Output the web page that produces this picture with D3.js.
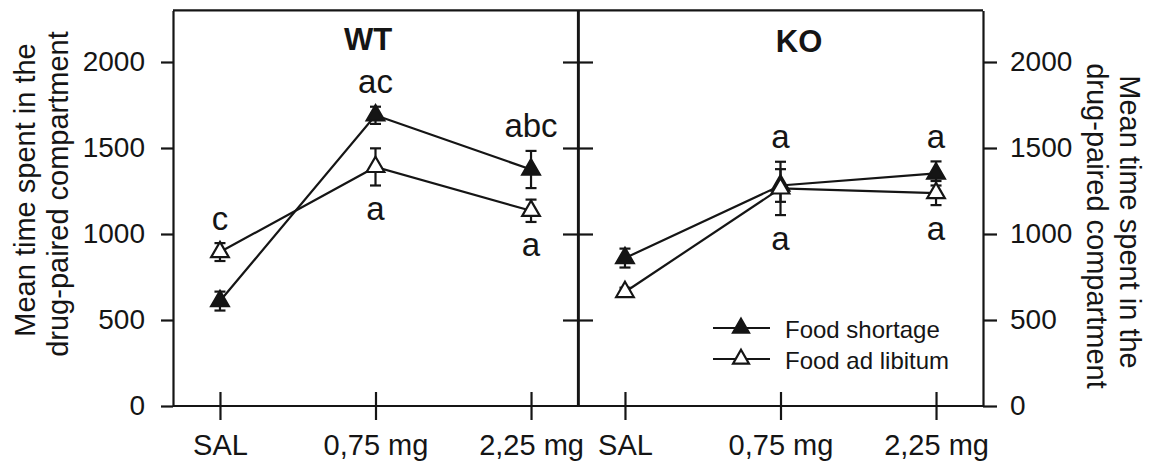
<!DOCTYPE html>
<html>
<head>
<meta charset="utf-8">
<script src="https://cdn.jsdelivr.net/npm/d3@7"></script>
<style>
  html, body { margin: 0; padding: 0; background: #fff; }
  svg { display: block; }
  text { font-family: "Liberation Sans", Arial, Helvetica, sans-serif; fill: #151515; }
</style>
</head>
<body>
<svg id="chart" width="1150" height="466"></svg>
<script>
// Doses on the x axis
const categories = ["SAL", "0,75 mg", "2,25 mg"];
const panels = ["WT", "KO"];
const seriesNames = ["Food shortage", "Food ad libitum"];

// Mean time (s) in the drug-paired compartment, with SEM
const wtShortage = [610, 1690, 1375];
const wtShortageErr = [55, 50, 108];
const wtAdLib = [895, 1390, 1135];
const wtAdLibErr = [52, 108, 65];

const koShortage = [860, 1282, 1352];
const koShortageErr = [55, 95, 70];
const koAdLib = [663, 1265, 1238];
const koAdLibErr = [25, 155, 70];

// Significance letters, written above the highest / below the lowest error bar
const wtLettersAbove = ["c", "ac", "abc"];
const wtLettersBelow = ["", "a", "a"];
const koLettersAbove = ["", "a", "a"];
const koLettersBelow = ["", "a", "a"];

const yTicks = [0, 500, 1000, 1500, 2000];
const yMax = 2300;
const yTitleLines = ["Mean time spent in the", "drug-paired compartment"];

const svg = d3.select("#chart");
const ink = "#151515";
const lw = 2.2;

const frameLeft = 173, frameMid = 578, frameRight = 983;
const y = d3.scaleLinear().domain([0, yMax]).range([406, 10.4]);

const panelRanges = { WT: [frameLeft, frameMid], KO: [frameMid, frameRight] };
const xScales = {};
panels.forEach(p => {
  xScales[p] = d3.scalePoint().domain(categories).range(panelRanges[p]).padding(0.302);
});

const data = {
  WT: {
    series: [
      { name: seriesNames[0], values: wtShortage, errors: wtShortageErr, filled: true },
      { name: seriesNames[1], values: wtAdLib, errors: wtAdLibErr, filled: false }
    ],
    above: wtLettersAbove, below: wtLettersBelow
  },
  KO: {
    series: [
      { name: seriesNames[0], values: koShortage, errors: koShortageErr, filled: true },
      { name: seriesNames[1], values: koAdLib, errors: koAdLibErr, filled: false }
    ],
    above: koLettersAbove, below: koLettersBelow
  }
};

// ---- frame ----
const frame = svg.append("g").attr("stroke", ink).attr("stroke-width", lw).attr("fill", "none");
frame.append("line").attr("x1", frameLeft).attr("x2", frameRight).attr("y1", y(yMax)).attr("y2", y(yMax));
frame.append("line").attr("x1", frameLeft).attr("x2", frameRight).attr("y1", y(0)).attr("y2", y(0));
frame.append("line").attr("x1", frameMid).attr("x2", frameMid).attr("y1", y(yMax)).attr("y2", y(0));

// ---- y axes ----
function styleAxis(g) {
  g.select(".domain").attr("stroke", ink).attr("stroke-width", lw);
  g.selectAll(".tick line").attr("stroke", ink).attr("stroke-width", lw);
  g.selectAll(".tick text").attr("fill", ink).style("font-size", "28px")
    .style("font-family", "'Liberation Sans', Arial, sans-serif");
}

svg.append("g").attr("transform", `translate(${frameLeft},0)`)
  .call(d3.axisLeft(y).tickValues(yTicks).tickSize(12).tickSizeOuter(0).tickPadding(16).tickFormat(d3.format("d")))
  .call(styleAxis);

svg.append("g").attr("transform", `translate(${frameRight},0)`)
  .call(d3.axisRight(y).tickValues(yTicks).tickSize(14).tickSizeOuter(0).tickPadding(13).tickFormat(d3.format("d")))
  .call(styleAxis);

// inward ticks on the shared middle border
svg.append("g").attr("transform", `translate(${frameMid},0)`)
  .call(d3.axisRight(y).tickValues(yTicks.filter(v => v > 0)).tickSize(-15).tickSizeOuter(0).tickFormat(""))
  .call(styleAxis);
svg.append("g").attr("transform", `translate(${frameMid},0)`)
  .call(d3.axisLeft(y).tickValues(yTicks.filter(v => v > 0)).tickSize(-15).tickSizeOuter(0).tickFormat(""))
  .call(styleAxis);

// ---- x axes ----
panels.forEach(p => {
  const g = svg.append("g").attr("transform", `translate(0,${y(0)})`)
    .call(d3.axisBottom(xScales[p]).tickSize(14).tickSizeOuter(0).tickPadding(14))
    .call(styleAxis);
  g.select(".domain").remove();
  g.selectAll(".tick line").attr("y1", -14);
  g.selectAll(".tick text").style("font-size", "29px");
});

// ---- y titles ----
const yTitleSize = 29;
yTitleLines.forEach((line, i) => {
  svg.append("text")
    .attr("transform", `translate(${25 + i * 33},${190 + i * 4}) rotate(-90)`)
    .attr("text-anchor", "middle").attr("dominant-baseline", "central")
    .style("font-size", yTitleSize + "px").text(line);
  svg.append("text")
    .attr("transform", `translate(${1130 - i * 33},${222 + i * 4}) rotate(90)`)
    .attr("text-anchor", "middle").attr("dominant-baseline", "central")
    .style("font-size", yTitleSize + "px").text(line);
});

// ---- panel titles ----
const titlePos = { WT: [368, 39], KO: [799, 41] };
panels.forEach(p => {
  svg.append("text").attr("x", titlePos[p][0]).attr("y", titlePos[p][1])
    .attr("text-anchor", "middle").attr("dominant-baseline", "central")
    .style("font-size", "31px").style("font-weight", "bold").text(p);
});

// ---- series ----
const tri = d3.symbol().type(d3.symbolTriangle).size(135);
const capHalf = 5.5;

panels.forEach(p => {
  const x = xScales[p];
  const layer = svg.append("g");
  data[p].series.forEach(s => {
    const pts = categories.map((c, i) => ({ c, v: s.values[i], e: s.errors[i] }));
    const g = layer.append("g");
    g.append("path").datum(pts)
      .attr("fill", "none").attr("stroke", ink).attr("stroke-width", lw)
      .attr("d", d3.line().x(d => x(d.c)).y(d => y(d.v)));
    const eb = g.selectAll(".eb").data(pts).enter().append("g")
      .attr("stroke", ink).attr("stroke-width", lw);
    eb.append("line").attr("x1", d => x(d.c)).attr("x2", d => x(d.c))
      .attr("y1", d => y(d.v + d.e)).attr("y2", d => y(d.v - d.e));
    eb.append("line").attr("x1", d => x(d.c) - capHalf).attr("x2", d => x(d.c) + capHalf)
      .attr("y1", d => y(d.v + d.e)).attr("y2", d => y(d.v + d.e));
    eb.append("line").attr("x1", d => x(d.c) - capHalf).attr("x2", d => x(d.c) + capHalf)
      .attr("y1", d => y(d.v - d.e)).attr("y2", d => y(d.v - d.e));
    g.selectAll(".mk").data(pts).enter().append("path")
      .attr("d", tri)
      .attr("transform", d => `translate(${x(d.c)},${y(d.v)})`)
      .attr("fill", s.filled ? ink : "#fff")
      .attr("stroke", ink).attr("stroke-width", lw);
  });

  // significance letters
  categories.forEach((c, i) => {
    const top = d3.max(data[p].series, s => s.values[i] + s.errors[i]);
    const bot = d3.min(data[p].series, s => s.values[i] - s.errors[i]);
    if (data[p].above[i]) {
      layer.append("text").attr("x", x(c)).attr("y", y(top) - 25)
        .attr("text-anchor", "middle").attr("dominant-baseline", "central")
        .style("font-size", "33px").text(data[p].above[i]);
    }
    if (data[p].below[i]) {
      layer.append("text").attr("x", x(c)).attr("y", y(bot) + 23)
        .attr("text-anchor", "middle").attr("dominant-baseline", "central")
        .style("font-size", "33px").text(data[p].below[i]);
    }
  });
});

// ---- legend ----
const legend = svg.append("g").attr("transform", "translate(713,328)");
seriesNames.forEach((name, i) => {
  const row = legend.append("g").attr("transform", `translate(0,${i * 31})`);
  row.append("line").attr("x1", 0).attr("x2", 57).attr("y1", 0).attr("y2", 0)
    .attr("stroke", ink).attr("stroke-width", lw);
  row.append("path").attr("d", d3.symbol().type(d3.symbolTriangle).size(110))
    .attr("transform", "translate(28,0)")
    .attr("fill", i === 0 ? ink : "#fff").attr("stroke", ink).attr("stroke-width", lw);
  row.append("text").attr("x", 72).attr("y", 1).attr("dominant-baseline", "central")
    .style("font-size", "24px").text(name);
});
</script>
</body>
</html>
